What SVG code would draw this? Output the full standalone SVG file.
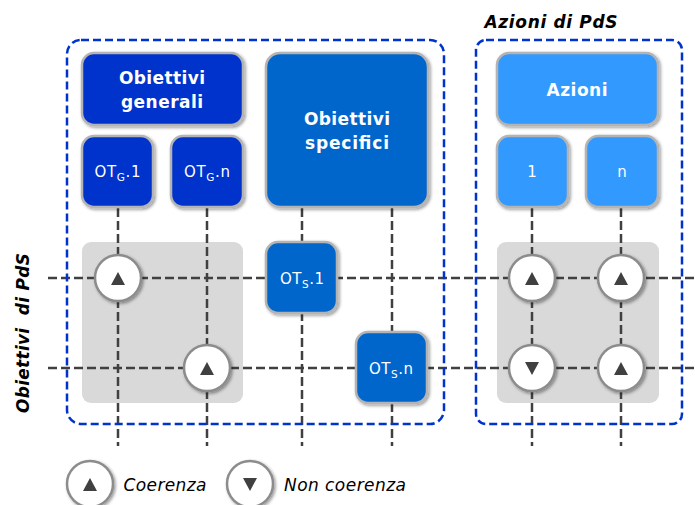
<svg xmlns="http://www.w3.org/2000/svg" width="695" height="505" viewBox="0 0 695 505">
<defs>
<filter id="sh" x="-20%" y="-20%" width="145%" height="145%"><feDropShadow dx="1.5" dy="1.5" stdDeviation="1.5" flood-color="#000" flood-opacity="0.4"/></filter>
</defs>
<style>
text{font-family:"DejaVu Sans","Liberation Sans",sans-serif;text-anchor:middle}
.box{stroke:#b4b4b4;stroke-width:2.5;filter:url(#sh)}
.g{fill:#0033cc}.s{fill:#0066cc}.a{fill:#3399ff}
.t{fill:#fff;font-weight:bold;font-size:17px}
.l{fill:#fff;font-size:15px}
.sub{font-size:10.5px}
.grid{fill:#d9d9d9}
.dash{fill:none;stroke:#0033cc;stroke-width:2.5;stroke-dasharray:8 4}
.conn{stroke:#404040;stroke-width:2.5;stroke-dasharray:9 4;fill:none}
.c{fill:#fff;stroke:#8c8c8c;stroke-width:2.5;filter:url(#sh)}
.tri{fill:#404040}
.h{fill:#000;font-style:italic;font-weight:bold;font-size:17px}
.lg{fill:#000;font-style:italic;font-size:17px}
</style>
<rect class="grid" x="82" y="242" width="161" height="161" rx="9"/>
<rect class="grid" x="497" y="242" width="162" height="161" rx="9"/>
<g id="connectors">
<path class="conn" d="M48 278H695M48 368H695"/>
<path class="conn" d="M118 208V446M207 208V446M302 208V446M392 208V446M532 208V446M621 208V446"/>
</g>
<rect class="dash" x="67" y="40" width="377" height="384" rx="14"/>
<rect class="dash" x="476" y="40" width="206" height="384" rx="10"/>
<g id="obiettivi-generali"><rect class="box g" x="82" y="53" width="161" height="72" rx="12"/><text class="t" x="162" y="84" textLength="86">Obiettivi</text><text class="t" x="162" y="108" textLength="82">generali</text></g>
<g id="otg-1"><rect class="box g" x="82" y="136" width="71" height="71" rx="12"/><text class="l" x="117.500" y="177" textLength="46">OT<tspan class="sub" dy="4">G</tspan><tspan dy="-4">.1</tspan></text></g>
<g id="otg-n"><rect class="box g" x="171" y="136" width="72" height="71" rx="12"/><text class="l" x="207" y="177" textLength="46">OT<tspan class="sub" dy="4">G</tspan><tspan dy="-4">.n</tspan></text></g>
<g id="obiettivi-specifici"><rect class="box s" x="266" y="53" width="162" height="154" rx="14"/><text class="t" x="347" y="125" textLength="86">Obiettivi</text><text class="t" x="347" y="149" textLength="84">specifici</text></g>
<g id="azioni"><rect class="box a" x="497" y="53" width="161" height="72" rx="12"/><text class="t" x="577" y="96" textLength="61">Azioni</text></g>
<g id="az-1"><rect class="box a" x="497" y="136" width="71" height="71" rx="12"/><text class="l" x="532" y="177">1</text></g>
<g id="az-n"><rect class="box a" x="586" y="136" width="72" height="71" rx="12"/><text class="l" x="622" y="177">n</text></g>
<g id="ots-1"><rect class="box s" x="266" y="242" width="71" height="71" rx="12"/><text class="l" x="302" y="284" textLength="44">OT<tspan class="sub" dy="4">S</tspan><tspan dy="-4">.1</tspan></text></g>
<g id="ots-n"><rect class="box s" x="356" y="332" width="71" height="71" rx="12"/><text class="l" x="391" y="374" textLength="44">OT<tspan class="sub" dy="4">S</tspan><tspan dy="-4">.n</tspan></text></g>
<g id="c1"><circle class="c" cx="118" cy="278" r="23"/><path class="tri" d="M118 272L125 285H111Z"/></g>
<g id="c2"><circle class="c" cx="207" cy="368" r="23"/><path class="tri" d="M207 362L214 375H200Z"/></g>
<g id="c3"><circle class="c" cx="532" cy="278" r="23"/><path class="tri" d="M532 272L539 285H525Z"/></g>
<g id="c4"><circle class="c" cx="621" cy="278" r="23"/><path class="tri" d="M621 272L628 285H614Z"/></g>
<g id="c5"><circle class="c" cx="532" cy="368" r="23"/><path class="tri" d="M532 375L539 362H525Z"/></g>
<g id="c6"><circle class="c" cx="621" cy="368" r="23"/><path class="tri" d="M621 362L628 375H614Z"/></g>
<g id="leg1"><circle class="c" cx="90" cy="484" r="23"/><path class="tri" d="M90 478L97 491H83Z"/><text class="lg" x="165" y="491" textLength="83">Coerenza</text></g>
<g id="leg2"><circle class="c" cx="250" cy="484" r="23"/><path class="tri" d="M250 491L257 478H243Z"/><text class="lg" x="345" y="491" textLength="122">Non coerenza</text></g>
<text class="h" x="551" y="28" textLength="133">Azioni di PdS</text>
<text class="h" transform="translate(29 333) rotate(-90)" textLength="160" xml:space="preserve">Obiettivi  di PdS</text>
</svg>
